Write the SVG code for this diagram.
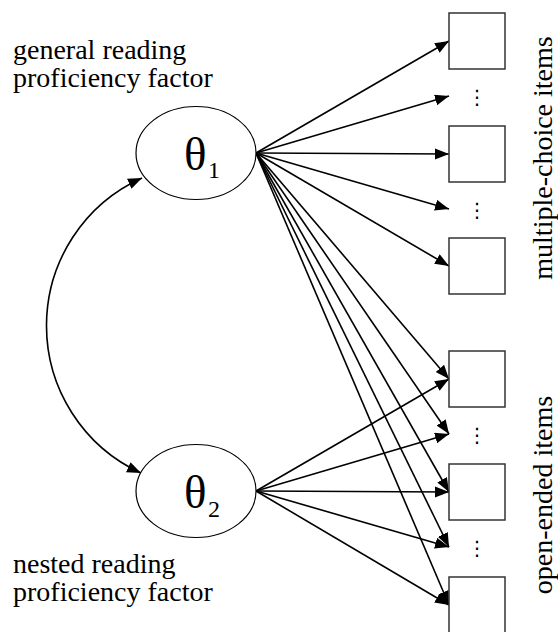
<svg xmlns="http://www.w3.org/2000/svg" width="558" height="632" viewBox="0 0 558 632">
<style>
text{font-family:"Liberation Serif","Times New Roman",serif;fill:#000}
.lbl{font-size:28px}
.th{font-size:47px}
.sub{font-size:24px}
.dots{font-family:"DejaVu Sans",sans-serif;font-size:20px;text-anchor:middle}
.box{fill:#fff;stroke:#333;stroke-width:1.5}
.ell{fill:#fff;stroke:#000;stroke-width:1.2}
.arr{stroke:#000;stroke-width:1.6;fill:none;marker-end:url(#ah)}
</style>
<defs>
<marker id="ah" markerUnits="userSpaceOnUse" markerWidth="15" markerHeight="12" refX="14" refY="5.5" orient="auto-start-reverse">
<path d="M0,0 L14,5.5 L0,11 z" fill="#000"/>
</marker>
</defs>
<rect width="558" height="632" fill="#fff"/>
<g id="connectors">
<path class="arr" d="M142,178 A162,162 0 0 0 141,473" style="marker-start:url(#ah)"/>
<line class="arr" x1="256" y1="153" x2="449" y2="41"/>
<line class="arr" x1="256" y1="153" x2="449" y2="96"/>
<line class="arr" x1="256" y1="153" x2="449" y2="154"/>
<line class="arr" x1="256" y1="153" x2="449" y2="209"/>
<line class="arr" x1="256" y1="153" x2="449" y2="266"/>
<line class="arr" x1="256" y1="153" x2="449" y2="379"/>
<line class="arr" x1="256" y1="153" x2="449" y2="434"/>
<line class="arr" x1="256" y1="153" x2="449" y2="492"/>
<line class="arr" x1="256" y1="153" x2="449" y2="547"/>
<line class="arr" x1="256" y1="153" x2="449" y2="605"/>
<line class="arr" x1="256" y1="491" x2="449" y2="379"/>
<line class="arr" x1="256" y1="491" x2="449" y2="434"/>
<line class="arr" x1="256" y1="491" x2="449" y2="492"/>
<line class="arr" x1="256" y1="491" x2="449" y2="547"/>
<line class="arr" x1="256" y1="491" x2="449" y2="605"/>
</g>
<g id="theta1">
<ellipse class="ell" cx="196" cy="153" rx="60" ry="46.5"/>
<text class="th" x="184" y="170">θ</text>
<text class="sub" x="208" y="178">1</text>
</g>
<g id="theta2">
<ellipse class="ell" cx="196" cy="491" rx="60" ry="46.5"/>
<text class="th" x="184" y="508">θ</text>
<text class="sub" x="208" y="517">2</text>
</g>
<g id="label-general">
<text class="lbl" x="13" y="59">general reading</text>
<text class="lbl" x="13" y="87">proficiency factor</text>
</g>
<g id="label-nested">
<text class="lbl" x="13" y="573">nested reading</text>
<text class="lbl" x="13" y="601">proficiency factor</text>
</g>
<g id="mc1"><rect class="box" x="449" y="13" width="56" height="56"/></g>
<g id="mc-dots1"><text class="dots" x="477" y="104">⋮</text></g>
<g id="mc2"><rect class="box" x="449" y="126" width="56" height="56"/></g>
<g id="mc-dots2"><text class="dots" x="477" y="217">⋮</text></g>
<g id="mc3"><rect class="box" x="449" y="238" width="56" height="56"/></g>
<g id="oe1"><rect class="box" x="449" y="351" width="56" height="56"/></g>
<g id="oe-dots1"><text class="dots" x="477" y="442">⋮</text></g>
<g id="oe2"><rect class="box" x="449" y="464" width="56" height="56"/></g>
<g id="oe-dots2"><text class="dots" x="477" y="555">⋮</text></g>
<g id="oe3"><rect class="box" x="449" y="577" width="56" height="56"/></g>
<g id="label-mc"><text class="lbl" text-anchor="middle" transform="translate(552,158) rotate(-90)">multiple-choice items</text></g>
<g id="label-oe"><text class="lbl" text-anchor="middle" transform="translate(552,495) rotate(-90)">open-ended items</text></g>
</svg>
